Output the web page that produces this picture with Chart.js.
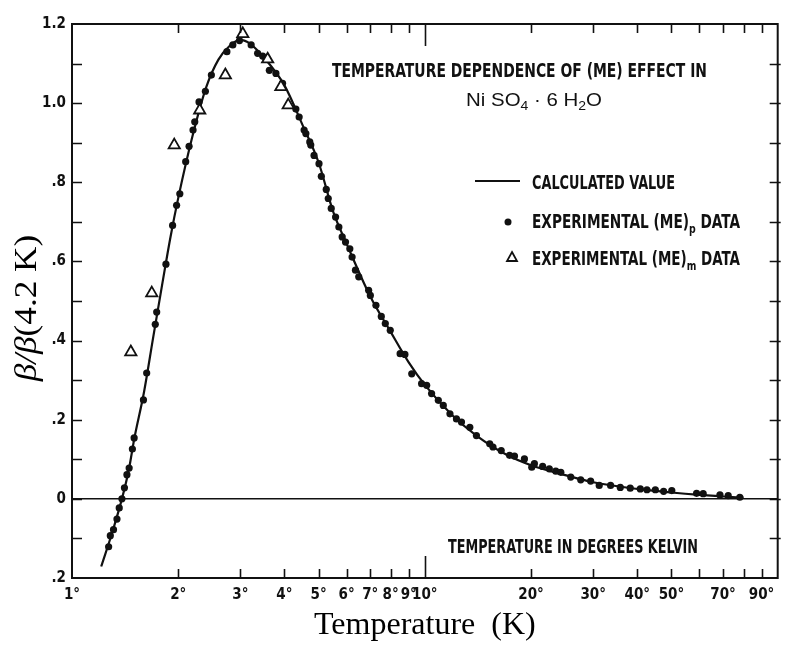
<!DOCTYPE html>
<html>
<head>
<meta charset="utf-8">
<script src="https://cdn.jsdelivr.net/npm/chart.js@4.4.0/dist/chart.umd.min.js"></script>
<style>
  html, body { margin: 0; padding: 0; background: #fff; }
  #wrap { width: 786px; height: 645px; }
</style>
</head>
<body>
<div id="wrap"><canvas id="meChart"></canvas></div>
<script>
// calculated curve, temperature (K) and beta / beta(4.2 K)
const calcT = [1.21, 1.30, 1.385, 1.45, 1.5, 1.6, 1.7, 1.8, 1.9, 2.0, 2.2, 2.4, 2.6, 2.8, 3.0, 3.2, 3.5, 4.0, 4.5, 5.0, 5.5, 6.0, 7.0, 8.0, 9.0, 10, 12, 14, 17, 20, 25, 30, 40, 50, 60, 70, 80];
const calcV = [-0.171, -0.085, 0.0, 0.075, 0.15, 0.27, 0.41, 0.54, 0.66, 0.76, 0.92, 1.04, 1.11, 1.145, 1.16, 1.15, 1.115, 1.045, 0.945, 0.85, 0.725, 0.645, 0.512, 0.422, 0.345, 0.288, 0.21, 0.16, 0.112, 0.085, 0.06, 0.042, 0.025, 0.016, 0.01, 0.006, 0.003];

// experimental (ME)p points
const expPT = [1.27, 1.284, 1.311, 1.341, 1.361, 1.385, 1.408, 1.431, 1.452, 1.483, 1.50, 1.594, 1.628, 1.722, 1.738, 1.846, 1.928, 1.979, 2.021, 2.10, 2.147, 2.203, 2.228, 2.291, 2.388, 2.483, 2.748, 2.856, 2.983, 3.219, 3.358, 3.47, 3.547, 3.625, 3.784, 3.951, 4.31, 4.403, 4.548, 4.6, 4.719, 4.75, 4.853, 5.012, 5.089, 5.255, 5.324, 5.429, 5.585, 5.706, 5.831, 5.959, 6.129, 6.22, 6.359, 6.496, 6.93, 7.007, 7.267, 7.526, 7.725, 7.98, 8.51, 8.78, 9.18, 9.79, 10.12, 10.45, 10.92, 11.28, 11.78, 12.29, 12.7, 13.41, 14.0, 15.27, 15.6, 16.46, 17.38, 17.95, 19.15, 20.09, 20.44, 21.57, 22.53, 23.5, 24.29, 25.91, 27.65, 29.5, 31.2, 33.6, 35.8, 38.2, 40.8, 42.6, 45.0, 47.5, 50.1, 58.9, 61.5, 68.6, 72.4, 78.1];
const expPV = [-0.121, -0.093, -0.078, -0.051, -0.023, 0.0, 0.028, 0.061, 0.078, 0.126, 0.154, 0.25, 0.318, 0.441, 0.472, 0.593, 0.691, 0.742, 0.771, 0.852, 0.891, 0.932, 0.953, 1.003, 1.03, 1.071, 1.13, 1.147, 1.158, 1.147, 1.126, 1.119, 1.113, 1.083, 1.075, 1.05, 0.985, 0.965, 0.932, 0.923, 0.902, 0.894, 0.868, 0.847, 0.815, 0.782, 0.759, 0.734, 0.712, 0.687, 0.662, 0.649, 0.632, 0.611, 0.578, 0.561, 0.527, 0.514, 0.489, 0.461, 0.443, 0.426, 0.367, 0.365, 0.316, 0.291, 0.287, 0.266, 0.249, 0.236, 0.215, 0.202, 0.194, 0.181, 0.16, 0.139, 0.131, 0.122, 0.11, 0.108, 0.101, 0.08, 0.089, 0.082, 0.076, 0.07, 0.067, 0.055, 0.048, 0.045, 0.034, 0.034, 0.029, 0.027, 0.025, 0.023, 0.023, 0.019, 0.021, 0.014, 0.013, 0.01, 0.008, 0.004];

// experimental (ME)m points
const expMT = [1.468, 1.683, 1.949, 2.301, 2.72, 3.048, 3.585, 3.909, 4.1];
const expMV = [0.371, 0.52, 0.894, 0.982, 1.071, 1.175, 1.111, 1.041, 0.995];

// axis ticks
const xTickValues = [1, 2, 3, 4, 5, 6, 7, 8, 9, 10, 20, 30, 40, 50, 60, 70, 80, 90];
const xTickLabels = [1, 2, 3, 4, 5, 6, 7, 8, 9, 10, 20, 30, 40, 50, 70, 90];
const yTickValues = [-0.2, -0.1, 0, 0.1, 0.2, 0.3, 0.4, 0.5, 0.6, 0.7, 0.8, 0.9, 1.0, 1.1, 1.2];
const yTickLabels = ['.2', '', '0', '', '.2', '', '.4', '', '.6', '', '.8', '', '1.0', '', '1.2'];

const toPoints = (xs, ys) => xs.map((x, i) => ({ x: x, y: ys[i] }));

const LETTER = '"DejaVu Sans Condensed", "Liberation Sans Narrow", sans-serif';
const SERIF = '"Liberation Serif", "Times New Roman", serif';

// draw a run of text pieces squeezed to a given width
function drawFit(ctx, parts, x, y, width) {
  let natural = 0;
  parts.forEach(p => { ctx.font = p.font; natural += ctx.measureText(p.text).width; });
  const sx = width / natural;
  ctx.save();
  ctx.translate(x, y);
  ctx.scale(sx, 1);
  let cx = 0;
  parts.forEach(p => {
    ctx.font = p.font;
    ctx.fillText(p.text, cx, p.dy || 0);
    cx += ctx.measureText(p.text).width;
  });
  ctx.restore();
}

const framePlugin = {
  id: 'frame',
  afterDraw(chart) {
    const { ctx, chartArea: a, scales: { x, y } } = chart;
    ctx.save();
    ctx.strokeStyle = '#111';
    ctx.fillStyle = '#111';
    ctx.lineWidth = 2;
    ctx.strokeRect(a.left, a.top, a.right - a.left, a.bottom - a.top);

    // inward tick marks
    ctx.lineWidth = 1.6;
    ctx.beginPath();
    x.ticks.forEach(t => {
      if (t.value <= 1) return;
      const px = Math.round(x.getPixelForValue(t.value)) + 0.5;
      const len = t.value === 10 ? 22 : 9;
      ctx.moveTo(px, a.bottom); ctx.lineTo(px, a.bottom - len);
      ctx.moveTo(px, a.top); ctx.lineTo(px, a.top + len);
    });
    y.ticks.forEach(t => {
      if (t.value <= -0.2 || t.value >= 1.2) return;
      const py = Math.round(y.getPixelForValue(t.value)) + 0.5;
      ctx.moveTo(a.left, py); ctx.lineTo(a.left + 10, py);
      ctx.moveTo(a.right + 3, py); ctx.lineTo(a.right - 8, py);
    });
    ctx.stroke();

    // captions
    ctx.textBaseline = 'alphabetic';
    ctx.textAlign = 'left';
    const cap = 'bold 19px ' + LETTER;
    const sub = 'bold 13px ' + LETTER;
    drawFit(ctx, [{ text: 'TEMPERATURE DEPENDENCE OF (ME) EFFECT IN', font: cap }], 332, 77, 375);
    const chem = '19px "Liberation Sans", Arial, sans-serif';
    const chemSub = '13px "Liberation Sans", Arial, sans-serif';
    drawFit(ctx, [
      { text: 'Ni SO', font: chem },
      { text: '4', font: chemSub, dy: 4 },
      { text: ' \u00b7 6 H', font: chem },
      { text: '2', font: chemSub, dy: 4 },
      { text: 'O', font: chem }
    ], 466, 106, 136);

    drawFit(ctx, [{ text: 'CALCULATED VALUE', font: cap }], 532, 189, 143);
    drawFit(ctx, [
      { text: 'EXPERIMENTAL (ME)', font: cap },
      { text: 'p', font: sub, dy: 5 },
      { text: ' DATA', font: cap }
    ], 532, 228, 208);
    drawFit(ctx, [
      { text: 'EXPERIMENTAL (ME)', font: cap },
      { text: 'm', font: sub, dy: 5 },
      { text: ' DATA', font: cap }
    ], 532, 265, 208);
    drawFit(ctx, [{ text: 'TEMPERATURE IN DEGREES KELVIN', font: cap }], 448, 553, 250);

    // legend symbols
    ctx.lineWidth = 2;
    ctx.beginPath();
    ctx.moveTo(475, 181); ctx.lineTo(520, 181);
    ctx.stroke();
    ctx.beginPath();
    ctx.arc(508, 222, 3.5, 0, Math.PI * 2);
    ctx.fill();
    ctx.lineWidth = 1.8;
    ctx.beginPath();
    ctx.moveTo(512, 252); ctx.lineTo(517, 261); ctx.lineTo(507, 261); ctx.closePath();
    ctx.stroke();

    // y axis title with italic beta
    const it = 'italic 32px ' + SERIF;
    const up = '32px ' + SERIF;
    const parts = [{ text: '\u03b2/\u03b2', font: it }, { text: '(4.2 K)', font: up }];
    let w = 0;
    parts.forEach(p => { ctx.font = p.font; w += ctx.measureText(p.text).width; });
    ctx.translate(36, 308);
    ctx.rotate(-Math.PI / 2);
    ctx.scale(1.1, 1);
    ctx.fillStyle = '#000';
    let cx = -w / 2;
    parts.forEach(p => { ctx.font = p.font; ctx.fillText(p.text, cx, 0); cx += ctx.measureText(p.text).width; });
    ctx.restore();
  }
};

new Chart(document.getElementById('meChart'), {
  type: 'scatter',
  data: {
    datasets: [
      {
        label: 'Experimental (ME)m data',
        data: toPoints(expMT, expMV),
        pointStyle: 'triangle',
        pointRadius: 6.5,
        backgroundColor: '#fff',
        borderColor: '#111',
        borderWidth: 1.8,
        order: 0
      },
      {
        label: 'Experimental (ME)p data',
        data: toPoints(expPT, expPV),
        pointRadius: 3.6,
        backgroundColor: '#111',
        borderWidth: 0,
        order: 1
      },
      {
        type: 'line',
        label: 'Calculated value',
        data: toPoints(calcT, calcV),
        borderColor: '#111',
        borderWidth: 2.2,
        pointRadius: 0,
        fill: false,
        cubicInterpolationMode: 'monotone',
        order: 2
      }
    ]
  },
  options: {
    responsive: true,
    maintainAspectRatio: false,
    animation: false,
    layout: { padding: { top: 24, right: 4, left: 0, bottom: 0 } },
    plugins: {
      legend: { display: false },
      tooltip: { enabled: false }
    },
    scales: {
      x: {
        type: 'logarithmic',
        min: 1,
        max: 100,
        afterBuildTicks: s => { s.ticks = xTickValues.map(v => ({ value: v })); },
        afterFit: s => { s.height = 67; },
        grid: { display: false, drawTicks: false },
        border: { display: false },
        ticks: {
          autoSkip: false,
          maxRotation: 0,
          padding: 8,
          color: '#111',
          font: { family: LETTER, size: 15, weight: 'bold' },
          callback: v => xTickLabels.includes(v) ? v + '\u00b0' : ''
        },
        title: {
          display: true,
          text: 'Temperature  (K)',
          color: '#000',
          font: { family: SERIF, size: 32 },
          padding: { top: 0, bottom: 0 }
        }
      },
      y: {
        min: -0.2,
        max: 1.2,
        afterBuildTicks: s => { s.ticks = yTickValues.map(v => ({ value: v })); },
        afterFit: s => { s.width = 72; },
        grid: {
          drawTicks: false,
          lineWidth: 1.6,
          color: c => (c.tick && Math.abs(c.tick.value) < 1e-9) ? '#111' : 'rgba(0,0,0,0)'
        },
        border: { display: false },
        ticks: {
          padding: 6,
          color: '#111',
          font: { family: LETTER, size: 15, weight: 'bold' },
          callback: (v, i) => yTickLabels[i]
        }
      }
    }
  },
  plugins: [framePlugin]
});
</script>
</body>
</html>
